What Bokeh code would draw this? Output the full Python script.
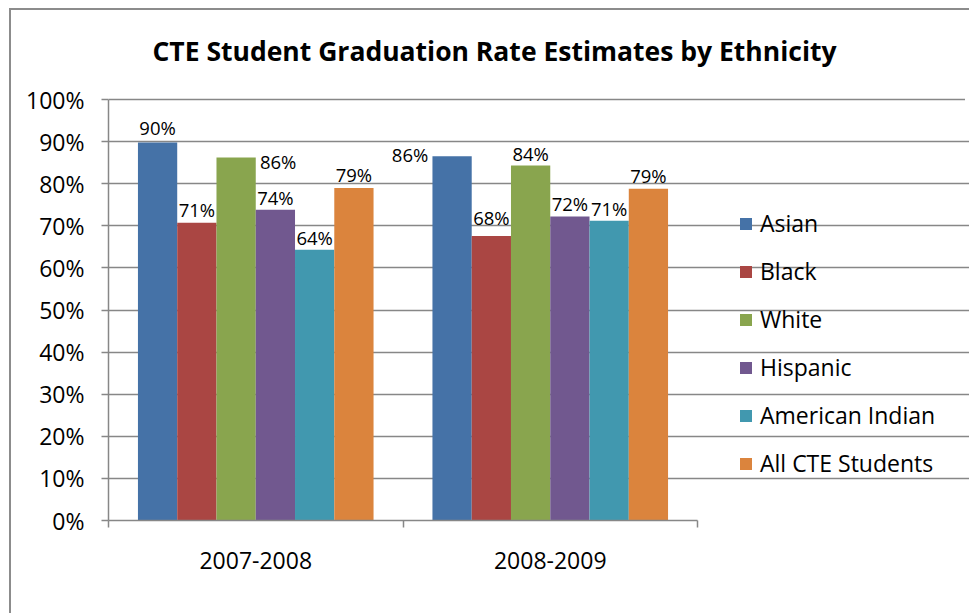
import numpy as np
from bokeh.plotting import figure
from bokeh.models import (Range1d, FixedTicker, NumeralTickFormatter, Legend, LegendItem,
                          Label, InlineStyleSheet, ColumnDataSource)
from bokeh.core.properties import value
from bokeh.embed import file_html
from bokeh.resources import INLINE

# ---------------- data ----------------
title = "CTE Student Graduation Rate Estimates by Ethnicity"
years = ["2007-2008", "2008-2009"]
groups = ["Asian", "Black", "White", "Hispanic", "American Indian", "All CTE Students"]
asian = [0.898, 0.865]
black = [0.707, 0.676]
white = [0.862, 0.843]
hispanic = [0.738, 0.722]
american_indian = [0.643, 0.712]
all_cte = [0.790, 0.788]
series = [asian, black, white, hispanic, american_indian, all_cte]
y_ticks = [i / 10 for i in range(11)]

# ---------------- style ----------------
colors = ["#4572A7", "#AA4643", "#89A54E", "#71588F", "#4198AF", "#DB843D"]
# per-label pixel nudges (dx, dy) as placed in the original chart
label_dx = [[0, -42], [0, 0], [42, 0], [0, 0], [0, 0], [0, 0]]
label_dy = [[-15, -2], [-13, -18], [4, -12], [-12, -13], [-12, -12], [-13, -13]]

FONT = "Open Sans"
GRAY = "#878787"
W, H = 969, 613
L, B, RM = 108, 93, 0     # left / bottom / right margins
PLOT_RIGHT, PLOT_TOP = 697, 99   # pixel extent of the plotting area proper
frame_w, frame_h = W - L - RM, H - B
x_end = len(years) * frame_w / (PLOT_RIGHT - L)
y_end = frame_h / (frame_h - PLOT_TOP)

p = figure(width=W, height=H, x_range=Range1d(0, x_end), y_range=Range1d(0, y_end),
           output_backend="svg", toolbar_location=None,
           min_border_left=L, min_border_right=RM, min_border_top=0, min_border_bottom=B)
p.outline_line_color = None
p.background_fill_color = "white"
p.border_fill_color = "white"

# y axis
p.yaxis.bounds = (0, 1)
p.yaxis.ticker = FixedTicker(ticks=y_ticks)
p.yaxis.formatter = NumeralTickFormatter(format="0%")
p.yaxis.axis_line_color = GRAY
p.yaxis.axis_line_width = 1.5
p.yaxis.major_tick_line_color = GRAY
p.yaxis.major_tick_line_width = 1.5
p.yaxis.major_tick_in = 0
p.yaxis.major_tick_out = 7
p.yaxis.minor_tick_line_color = None
p.yaxis.major_label_standoff = 17
p.yaxis.major_label_text_font = FONT
p.yaxis.major_label_text_font_size = "23px"
p.yaxis.major_label_text_color = "black"

# x axis: labels at category centres, tick marks at category boundaries
centers = np.arange(len(years)) + 0.5
bounds = list(np.arange(len(years) + 1).astype(float))
p.xaxis.bounds = (0, len(years))
p.xaxis.ticker = FixedTicker(ticks=list(centers), minor_ticks=bounds)
p.xaxis.major_label_overrides = {float(c): y for c, y in zip(centers, years)}
p.xaxis.axis_line_color = GRAY
p.xaxis.axis_line_width = 1.5
p.xaxis.major_tick_line_color = None
p.xaxis.minor_tick_line_color = GRAY
p.xaxis.minor_tick_line_width = 1.5
p.xaxis.minor_tick_in = 0
p.xaxis.minor_tick_out = 7
p.xaxis.major_label_standoff = 24
p.xaxis.major_label_text_font = FONT
p.xaxis.major_label_text_font_size = "23px"
p.xaxis.major_label_text_color = "black"

p.xgrid.visible = False
p.ygrid.ticker = FixedTicker(ticks=y_ticks)
p.ygrid.bounds = (0, len(years))
p.ygrid.grid_line_color = GRAY
p.ygrid.grid_line_width = 1.5

# bars
n = len(groups)
bw = 1.0 / (n + 1.5)
items = []
for i, (g, vals, c) in enumerate(zip(groups, series, colors)):
    xs = centers + (i - (n - 1) / 2) * bw
    src = ColumnDataSource(dict(x=xs, top=vals,
                                lab=["%d%%" % round(v * 100) for v in vals],
                                dx=label_dx[i], dy=label_dy[i]))
    r = p.vbar(x="x", top="top", width=bw, source=src, fill_color=c, line_color=None)
    p.text(x="x", y="top", text="lab", source=src, x_offset="dx", y_offset="dy",
           text_align="center", text_baseline="middle", text_font=value(FONT),
           text_font_size="18.5px", text_color="black")
    items.append(LegendItem(label=g, renderers=[r]))

legend = Legend(items=items, location=(738 - L, 39), orientation="vertical",
                border_line_color=None, background_fill_alpha=0,
                label_text_font=FONT, label_text_font_size="23px", label_text_color="black",
                glyph_width=15, glyph_height=15, label_standoff=7,
                label_height=36, spacing=12, padding=0, margin=0)
p.add_layout(legend, "center")

# title (positioned in the data space above the plotting area)
px_per_x = (PLOT_RIGHT - L) / len(years)
px_per_y = frame_h - PLOT_TOP
p.add_layout(Label(x=(494 - L) / px_per_x, y=(frame_h - 50) / px_per_y,
                   text=title, text_align="center", text_baseline="middle",
                   text_font=FONT, text_font_size="26.5px", text_font_style="bold",
                   text_color="black"))

# chart-area border (only its top and left edges fall inside the picture),
# plus a white strip that keeps the picture's right edge clean
p.stylesheets = [InlineStyleSheet(css=(
    ":host::before{content:'';position:absolute;left:965px;top:10px;width:10px;height:130px;"
    "background:#ffffff;z-index:99;pointer-events:none;}"
    ":host::after{content:'';position:absolute;left:9px;top:8px;"
    "width:960px;height:605px;border-left:2px solid #8c8c8c;"
    "border-top:2px solid #8c8c8c;z-index:100;"
    "box-sizing:border-box;pointer-events:none;}"))]

open("out.html", "w").write(file_html(p, INLINE))
